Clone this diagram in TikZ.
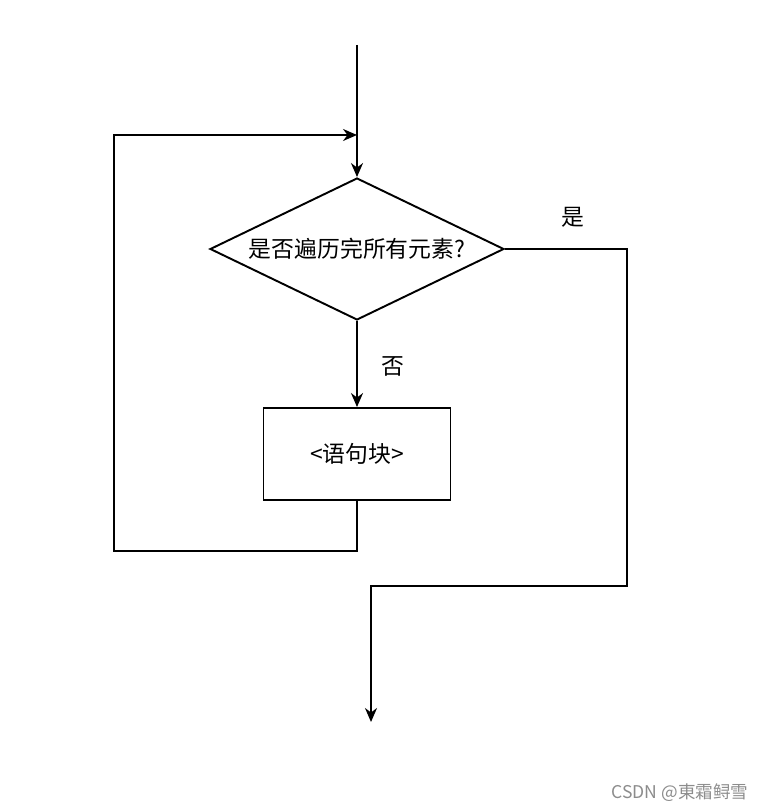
\documentclass[tikz,border=0pt]{standalone}
\usepackage{fontspec}
\setmainfont{Noto Sans CJK SC}
\usepackage{tikz}
\usetikzlibrary{shapes.geometric}
\usetikzlibrary{arrows.meta}
\usetikzlibrary{calc}

\begin{document}
\begin{tikzpicture}[x=0.02cm, y=-0.02cm, line width=1.1pt,
    >={Stealth[length=2.8mm, width=2.4mm]},
    every node/.style={font=\fontsize{13}{15}\selectfont},
    decision/.style={diamond, draw, inner sep=0pt, aspect=2.07, minimum width=5.88cm, minimum height=2.84cm},
    block/.style={rectangle, draw, minimum width=3.74cm, minimum height=1.84cm}]

      \useasboundingbox (0, 0) rectangle (763, 810);

      \node[decision] (cond) at (357, 249) {是否遍历完所有元素?};
      \node[block] (body) at (357, 454) {<语句块>};

      % corners of the loop and of the exit path
      \coordinate (start) at (357, 45);
      \coordinate (entry) at (357, 135);
      \coordinate (loopB) at (357, 551);
      \coordinate (loopL) at (114, 551);
      \coordinate (loopT) at (114, 135);
      \coordinate (yesR) at (627, 249);
      \coordinate (yesD) at (627, 586);
      \coordinate (exitT) at (371, 586);
      \coordinate (exit) at (371, 722);

      \draw[->] (start) -- (cond.north);
      \draw[->] (cond.south) -- (body.north);
      \draw[->] (body.south) -- (loopB) -- (loopL) -- (loopT) -- (entry);
      \draw[->] (cond.east) -- (yesR) -- (yesD) -- (exitT) -- (exit);

      \node (yes) at (573, 217) {是};
      \node (no) at (393, 366) {否};

      \node[text=black!45, font=\fontsize{10}{12}\selectfont] (mark) at (680, 793) {CSDN @東霜鲟雪};
    \end{tikzpicture}
\end{document}
